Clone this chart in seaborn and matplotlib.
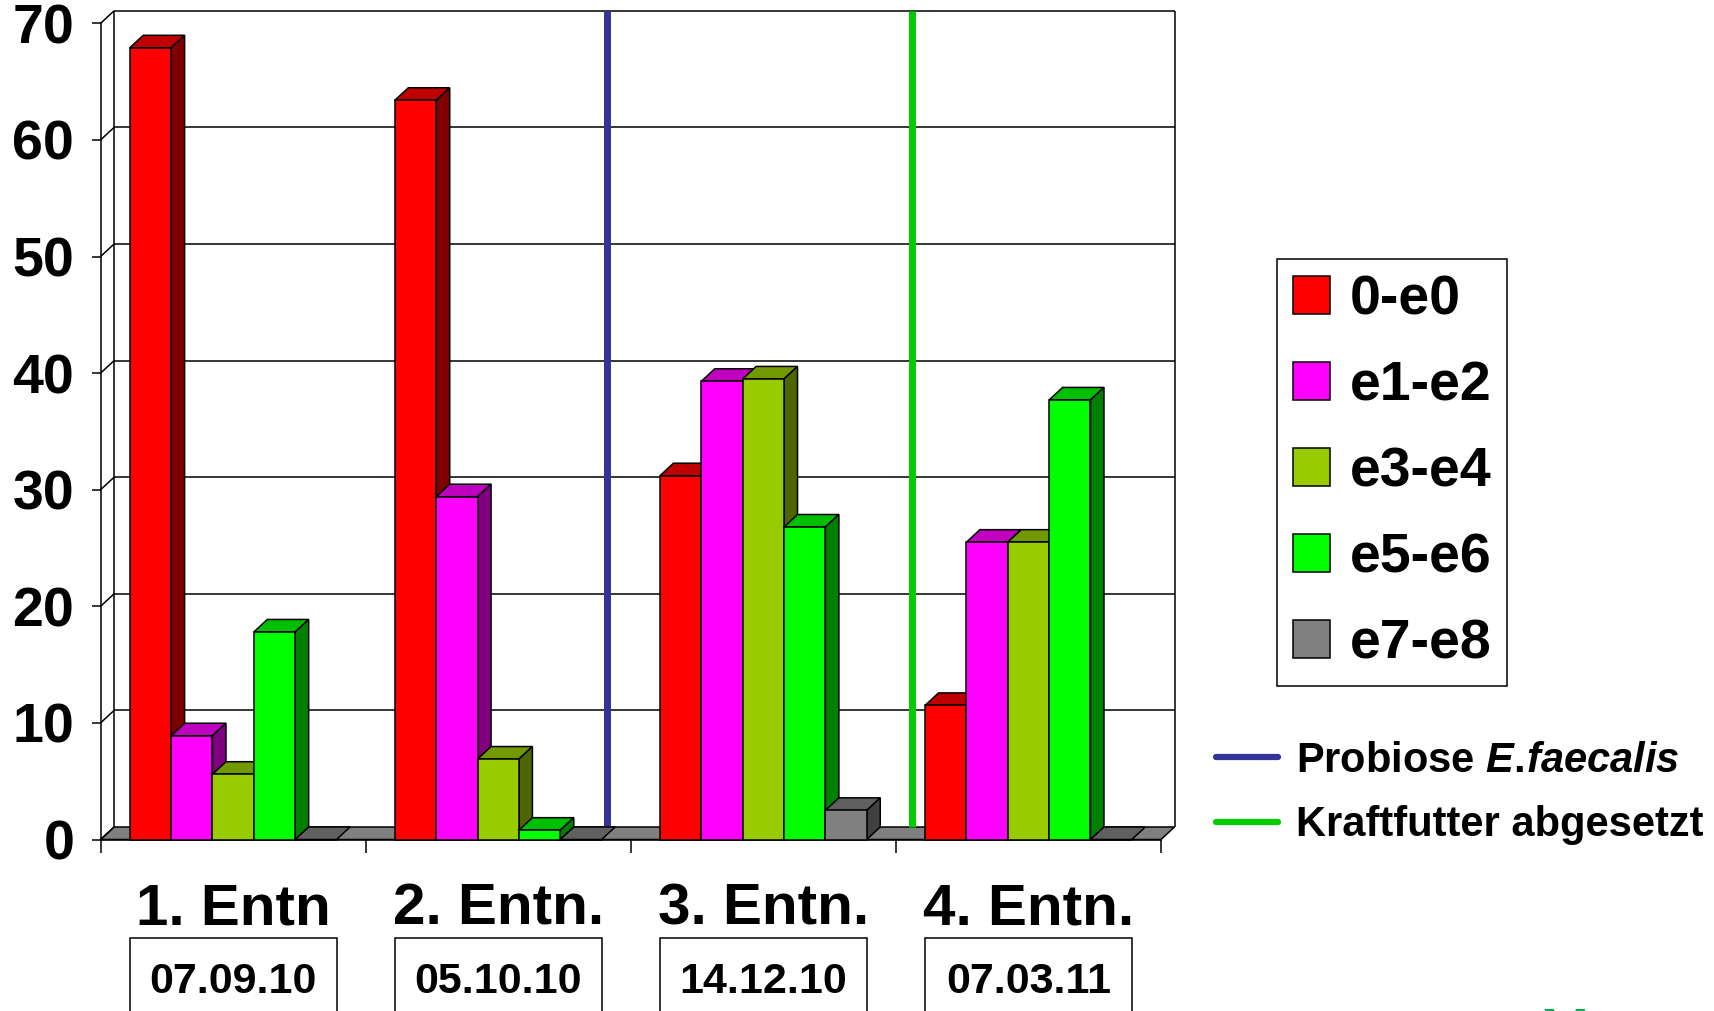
import numpy as np
import pandas as pd
import matplotlib
matplotlib.use("Agg")
import matplotlib.pyplot as plt
import matplotlib.transforms as mtransforms
from matplotlib.patches import Polygon, Rectangle, Patch
from matplotlib.lines import Line2D
from matplotlib.colors import to_rgb
import seaborn as sns

# ---- data -----------------------------------------------------------------
sampling = ["1. Entn", "2. Entn.", "3. Entn.", "4. Entn."]
sampling_dates = ["07.09.10", "05.10.10", "14.12.10", "07.03.11"]
ranges = ["0-e0", "e1-e2", "e3-e4", "e5-e6", "e7-e8"]
share_0_e0 = [67.9, 63.4, 31.2, 11.5]
share_e1_e2 = [8.9, 29.4, 39.3, 25.5]
share_e3_e4 = [5.6, 6.9, 39.5, 25.5]
share_e5_e6 = [17.8, 0.8, 26.8, 37.7]
share_e7_e8 = [0.0, 0.0, 2.5, 0.0]
range_colors = ["#FF0000", "#FF00FF", "#99CC00", "#00FF00", "#808080"]
y_ticks = [0, 10, 20, 30, 40, 50, 60, 70]

events = [r"Probiose $E.\!faecalis$", "Kraftfutter abgesetzt"]
event_positions = [1.36, 2.51]          # on the category axis
event_colors = ["#333399", "#00CC00"]

# ---- style ----------------------------------------------------------------
sns.set_style("white")
plt.rcParams["font.family"] = ["Liberation Sans", "DejaVu Sans"]
plt.rcParams["font.weight"] = "bold"
plt.rcParams["mathtext.fontset"] = "custom"
plt.rcParams["mathtext.rm"] = "Liberation Sans:bold"
plt.rcParams["mathtext.it"] = "Liberation Sans:italic:bold"
for key in ["text.color", "axes.labelcolor", "xtick.color", "ytick.color", "axes.edgecolor"]:
    plt.rcParams[key] = "black"

series = [share_0_e0, share_e1_e2, share_e3_e4, share_e5_e6, share_e7_e8]
df = pd.DataFrame(
    [(s, r, v) for r, vals in zip(ranges, series) for s, v in zip(sampling, vals)],
    columns=["Entnahme", "Bereich", "Anteil"],
)

W, H = 1714, 1011
fig = plt.figure(figsize=(W / 100, H / 100), dpi=100)
ax = fig.add_axes([100.6 / W, 1 - 839.5 / H, 1060.4 / W, 816.2 / H])
ax.patch.set_visible(False)

sns.barplot(
    data=df, x="Entnahme", y="Anteil", hue="Bereich", hue_order=ranges,
    order=sampling, palette=range_colors, saturation=1, width=0.78,
    edgecolor="black", linewidth=1.1, errorbar=None, legend=False, ax=ax,
)
ax.set_xlim(-0.5, 3.5)
ax.set_ylim(0, 70)
ax.set_xlabel("")
ax.set_ylabel("")

# depth of the pseudo-3D box in data units
ax_w_px = ax.get_position().width * W
ax_h_px = ax.get_position().height * H
DX = 13.5 / (ax_w_px / 4.0)
DY = 12.5 / (ax_h_px / 70.0)
x0, x1 = -0.5, 3.5
line_kw = dict(color="black", lw=1.1, clip_on=False, solid_capstyle="butt")

# bars: add top and side faces, painter's order from left to right
bars = sorted([p for p in ax.patches if isinstance(p, Rectangle)], key=lambda p: p.get_x())
for i, p in enumerate(bars):
    bx, bw, bh = p.get_x(), p.get_width(), p.get_height()
    rgb = np.array(to_rgb(p.get_facecolor()))
    p.set_zorder(3 + 2 * i + 1)
    p.set_clip_on(False)
    top = Polygon([(bx, bh), (bx + bw, bh), (bx + bw + DX, bh + DY), (bx + DX, bh + DY)],
                  closed=True, facecolor=rgb * 0.75, edgecolor="black", lw=1.1,
                  zorder=3 + 2 * i, clip_on=False)
    ax.add_patch(top)
    if bh > 0:
        side = Polygon([(bx + bw, 0), (bx + bw + DX, DY), (bx + bw + DX, bh + DY), (bx + bw, bh)],
                       closed=True, facecolor=rgb * 0.5, edgecolor="black", lw=1.1,
                       zorder=3 + 2 * i, clip_on=False)
        ax.add_patch(side)

# floor
ax.add_patch(Polygon([(x0, 0), (x1, 0), (x1 + DX, DY), (x0 + DX, DY)], closed=True,
                     facecolor="#808080", edgecolor="black", lw=1.1, zorder=0.5,
                     clip_on=False))

# back wall grid and left side wall
for v in y_ticks[1:]:
    ax.plot([x0 + DX, x1 + DX], [v + DY, v + DY], zorder=0.6, **line_kw)
for v in y_ticks:
    ax.plot([x0, x0 + DX], [v, v + DY], zorder=0.6, **line_kw)
ax.plot([x0 + DX, x0 + DX], [DY, 70 + DY], zorder=0.6, **line_kw)
ax.plot([x1 + DX, x1 + DX], [DY, 70 + DY], zorder=0.6, **line_kw)

# event markers on the back wall
for pos, col in zip(event_positions, event_colors):
    ax.plot([pos + DX, pos + DX], [DY, 70 + DY], color=col, lw=5, zorder=0.8,
            clip_on=False, solid_capstyle="butt")

# axes
for s in ["top", "right"]:
    ax.spines[s].set_visible(False)
for s in ["left", "bottom"]:
    ax.spines[s].set_linewidth(1.1)
    ax.spines[s].set_color("black")
ax.set_yticks(y_ticks)
ax.set_yticklabels([str(v) for v in y_ticks], fontsize=40, fontweight="bold")
ax.tick_params(axis="y", length=6.5, width=1.1, pad=12.5, direction="out", left=True,
               colors="black")
ax.set_xticks(range(len(sampling)))
ax.set_xticklabels(sampling, fontsize=42, fontweight="bold")
ax.set_xticks(np.arange(-0.5, len(sampling), 1.0), minor=True)
ax.tick_params(axis="x", which="major", length=0, pad=31, bottom=True, colors="black")
ax.tick_params(axis="x", which="minor", length=9, width=1.1, direction="out", bottom=True,
               colors="black")

# sampling dates in boxes below the categories
blend = mtransforms.blended_transform_factory(ax.transData, ax.transAxes)
for i, d in enumerate(sampling_dates):
    ax.add_patch(Rectangle((i - 0.39, -0.33), 0.78, 0.2093, transform=blend, fill=False,
                           edgecolor="black", lw=1.1, clip_on=False))
    ax.text(i, -0.1747, d, transform=blend, ha="center", va="center",
            fontsize=31, fontweight="bold", color="black")

# legends
range_handles = [Patch(facecolor=c, edgecolor="black", linewidth=1.1, label=r)
                 for r, c in zip(ranges, range_colors)]
leg1 = fig.legend(handles=range_handles, loc="upper left",
                  bbox_to_anchor=(1277 / W, 1 - 259 / H), bbox_transform=fig.transFigure,
                  frameon=True, fancybox=False, edgecolor="black", framealpha=1,
                  prop={"weight": "bold", "size": 40}, handlelength=0.67,
                  handleheight=0.67, handletextpad=0.36, labelspacing=0.61,
                  borderpad=0.28, borderaxespad=0, labelcolor="black")
leg1.get_frame().set_linewidth(1.1)

event_handles = [Line2D([], [], color=c, lw=4.5, label=l)
                 for l, c in zip(events, event_colors)]
fig.legend(handles=event_handles, loc="upper left",
           bbox_to_anchor=(1215.5 / W, 1 - 741 / H), bbox_transform=fig.transFigure,
           frameon=False, prop={"weight": "bold", "size": 30}, handlelength=1.5,
           handletextpad=0.44, labelspacing=0.58, borderpad=0, borderaxespad=0,
           labelcolor="black")

fig.text(1564 / W, 1 - 1052 / H, "V", color="#00B050", fontsize=45,
         fontweight="bold", ha="center", va="baseline")

fig.savefig("out.png", dpi=100, facecolor="white")
